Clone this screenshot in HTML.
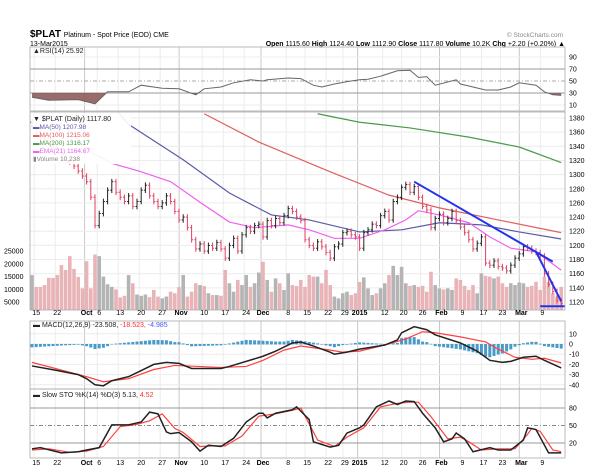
<!DOCTYPE html>
<html><head><meta charset="utf-8"><style>
html,body{margin:0;padding:0;background:#fff;}
svg{display:block;font-family:"Liberation Sans",sans-serif;}
</style></head><body>
<svg id="chart" width="600" height="475" viewBox="0 0 600 475" xmlns="http://www.w3.org/2000/svg">
<g>
<text x="30" y="37" font-size="10" font-weight="bold">$PLAT <tspan font-size="7" font-weight="normal">Platinum  - Spot Price (EOD) CME</tspan></text>
<text x="563" y="37" font-size="6.5" fill="#888" text-anchor="end">© StockCharts.com</text>
<text x="30" y="46" font-size="7">13-Mar2015</text>
<text x="565" y="46" font-size="7" text-anchor="end"><tspan font-weight="bold">Open</tspan> 1115.60 <tspan font-weight="bold">High</tspan> 1124.40 <tspan font-weight="bold">Low</tspan> 1112.90 <tspan font-weight="bold">Close</tspan> 1117.80 <tspan font-weight="bold">Volume</tspan> 10.2K <tspan font-weight="bold">Chg</tspan> +2.20 (+0.20%) ▲</text>
</g>
<g id="grid"></g>
<g id="plots"></g>
<g id="labels"></g>
</svg>
<script>
// ---- data ----
const closes=[1368,1360,1352,1350,1345,1340,1335,1325,1320,1318,1312,1305,1298,1290,1268,1228,1245,1262,1278,1290,1275,1268,1262,1270,1255,1262,1278,1285,1270,1262,1255,1260,1270,1262,1248,1236,1240,1225,1208,1195,1202,1192,1200,1196,1204,1195,1182,1200,1210,1192,1215,1225,1220,1228,1230,1212,1235,1228,1238,1232,1242,1252,1248,1240,1235,1208,1200,1196,1205,1198,1190,1182,1198,1202,1218,1220,1215,1212,1196,1218,1222,1230,1228,1242,1248,1236,1262,1268,1282,1286,1275,1283,1268,1255,1250,1225,1238,1244,1232,1238,1248,1235,1226,1218,1208,1195,1203,1212,1175,1172,1178,1170,1168,1164,1172,1182,1188,1198,1196,1192,1190,1185,1160,1145,1135,1122,1118];
const volumes=[15.6,11.0,11.0,11.7,14.5,14.5,15.6,19.5,17.6,23,18,14.9,10.4,21,10.4,23.6,23,15,12,11,10,6.9,7.5,15.6,12.4,8,7.5,8,7,9.8,7.2,6.5,7.2,9.1,8.5,10.9,15.6,7.2,9.1,12.4,11.7,11.3,8.5,7.8,7.8,7.5,17.6,12.4,9.1,13.7,11.7,15.6,11,12.4,16.6,20.8,13.7,9.1,14.3,12.4,9.8,16.3,11.7,11.3,13.7,11.0,15.6,15.0,15.0,12.4,17.6,11.7,7.2,6.5,8.5,9.1,7.8,8.5,12.9,14.7,10.4,7.8,8.5,10.4,12.4,15.6,19.2,15.6,18.8,12.4,11.4,11.7,11,11.4,9.1,16.9,11.7,10.4,10,10.4,9.8,14.3,13.7,11.4,9.8,11.7,8.5,16.3,15.3,15,14.3,15,12.4,11,12.4,11.7,12.7,12.4,11,11.4,13,9.8,15,13,8.5,7.2,11];
const ma50Idx=[19,23,36,47,57,66,78,88,97,107,116,126];
const ma50Val=[1398,1371,1321,1274,1243,1236,1219,1222,1232,1229,1219,1209];
const ma100Idx=[41,54,71,85,97,111,126];
const ma100Val=[1386,1346,1304,1271,1253,1236,1218];
const ma200Idx=[68,78,90,104,116,126];
const ma200Val=[1386,1374,1366,1353,1339,1317];
const emaIdx=[5,14,19,26,33,40,47,53,61,66,72,78,84,89,92,97,104,109,114,120,126];
const emaVal=[1384,1332,1316,1304,1290,1261,1233,1225,1229,1222,1210,1210,1222,1236,1249,1243,1232,1212,1196,1191,1165];
const rsiIdx=[0,4,11,15,18,23,26,31,35,39,41,45,48,52,55,56,61,64,67,69,72,75,78,80,83,87,90,92,94,96,101,102,105,108,111,114,116,120,122,124,126];
const rsiVal=[23,18,19,12,32,32,43,38,37,27,37,40,47,52,50,52,55,54,43,40,45,49,52,53,58,67,68,56,57,43,52,45,40,35,35,40,47,43,32,27,26];
const macdIdx=[0,6,11,13,15,17,19,23,26,29,32,35,38,45,47,55,58,62,64,67,71,72,75,78,84,87,88,91,94,96,102,106,109,112,114,117,120,122,126];
const macdVal=[-21.5,-26,-30,-34,-40,-41,-36,-32,-26,-20,-18,-19,-24,-24,-22,-12,-7,1,2,-2,-8,-10,-8,-5,-1,4,11,17,14,9,1,-7,-16,-18,-17,-13,-12,-16,-23.5];
const signalIdx=[0,13,17,23,29,34,45,51,55,60,64,71,74,78,84,89,93,96,102,108,111,115,119,122,126];
const signalVal=[-18,-32,-37,-34,-25,-21,-23,-22,-16,-6,-2,-6,-8,-7,-1,5,12,11,7,2,-5,-13,-15,-14,-18.5];
const kIdx=[0,2,7,11,13,16,19,23,26,28,30,32,33,35,38,40,42,45,48,51,54,55,56,58,62,63,66,67,71,73,75,78,79,82,85,87,89,91,93,96,98,100,101,103,105,109,111,114,117,118,120,123,126];
const kVal=[10,12,3,5,8,12,51,51,56,73,70,39,36,38,22,6,16,14,28,56,71,71,63,71,77,82,60,22,13,16,37,46,51,82,92,86,92,91,71,46,22,27,37,27,5,12,8,8,25,46,43,3,3];
const dIdx=[0,4,9,13,17,21,25,28,31,34,36,40,43,46,50,54,58,62,64,68,72,75,79,83,87,90,92,95,99,102,104,107,111,115,118,119,121,124,126];
const dVal=[8,10,4,6,14,48,52,58,70,45,38,14,15,15,32,66,70,76,80,25,14,30,46,82,88,90,90,65,27,30,22,8,10,10,35,45,40,8,5];
const priceTicks=[1380,1360,1340,1320,1300,1280,1260,1240,1220,1200,1180,1160,1140,1120];
const volTicks=[25000,20000,15000,10000,5000];
const rsiTicks=[90,70,50,30,10];
const macdTicks=[10,0,-10,-20,-30,-40];
const stoTicks=[80,50,20];
const dateLabels=["15","22","Oct","6","13","20","27","Nov","10","17","24","Dec","8","15","22","29","2015","12","20","26","Feb","9","17","23","Mar","9"];
const datePos=[1,6,13,16,21,26,31,35.5,41,46,51,55,61,65.5,70.5,74.5,78,84,88.5,93,97.5,102.5,107.5,112,116.5,121.5];
const trend1=[[91,1290],[124,1177]];
const trend2=[[120,1191],[126,1121]];
const trend3=[[121,1114],[127,1114]];

// ---- layout ----
const L=30,R=565;
const X=i=>32+i*4.2;
const PY=p=>118+(1380-p)*0.7077;
const VY=v=>315-v*2.56;
const RY=v=>57+(90-v)*0.6;
const MY=v=>344-v*1.02;
const SY=v=>408+(80-v)*0.583;
const NS="http://www.w3.org/2000/svg";
function mk(tag,attrs,parent){const e=document.createElementNS(NS,tag);for(const k in attrs)e.setAttribute(k,attrs[k]);parent.appendChild(e);return e;}
const grid=document.getElementById('grid'),plots=document.getElementById('plots'),labs=document.getElementById('labels');
const panels=[[47,111],[112,310],[321,389],[389,458]];
datePos.forEach((d,j)=>{const month=["Oct","Nov","Dec","2015","Feb","Mar"].includes(dateLabels[j]);
 panels.forEach(p=>{const l=mk('line',{x1:X(d)-2,x2:X(d)-2,y1:p[0],y2:p[1],stroke:month?'#c8c8c8':'#ececec','stroke-width':1},grid);
 });});
priceTicks.forEach(t=>{const y=PY(t);const l=mk('line',{x1:L,x2:R,y1:y,y2:y,stroke:'#ececec'},grid);
 const tx=mk('text',{x:R+4,y:y+2.5,'font-size':7},labs);tx.textContent=t;});
volTicks.forEach(t=>{const tx=mk('text',{x:4,y:VY(t/1000)+2.5,'font-size':7},labs);tx.textContent=t;});
rsiTicks.forEach(t=>{const y=RY(t);const strong=(t==70||t==30);const l=mk('line',{x1:L,x2:R,y1:y,y2:y,stroke:strong?'#999':(t==50?'#aaa':'#ececec'),'stroke-dasharray':t==50?'4,2,1,2':'none'},grid);
 const tx=mk('text',{x:R+4,y:y+2.5,'font-size':7},labs);tx.textContent=t;});
macdTicks.forEach(t=>{const y=MY(t);const l=mk('line',{x1:L,x2:R,y1:y,y2:y,stroke:'#ececec'},grid);
 const tx=mk('text',{x:R+4,y:y+2.5,'font-size':7},labs);tx.textContent=t;});
stoTicks.forEach(t=>{const y=SY(t);const l=mk('line',{x1:L,x2:R,y1:y,y2:y,stroke:t==50?'#888':'#999','stroke-dasharray':t==50?'4,2,1,2':'none'},grid);
 const tx=mk('text',{x:R+4,y:y+2.5,'font-size':7},labs);tx.textContent=t;});
[315,465].forEach(yy=>{dateLabels.forEach((s,j)=>{const bold=isNaN(+s)||s=="2015";const tx=mk('text',{x:X(datePos[j]),y:yy,'font-size':7,'text-anchor':'middle','font-weight':bold?'bold':'normal'},labs);tx.textContent=s;});});
closes.forEach((c,i)=>{const up=i==0||c>=closes[i-1];const y=VY(volumes[i]);const r=mk('rect',{x:X(i)-1.8,y:y,width:3.6,height:Math.max(0,310-y),fill:up?'#b4b4b4':'#e8b4b8'},plots);});
function line(idx,val,fy,color,w,name){const pts=idx.map((d,j)=>X(d)+','+fy(val[j])).join(' ');const p=mk('polyline',{points:pts,fill:'none',stroke:color,'stroke-width':w},plots);return p;}
function interp(idx,val,i){if(i<=idx[0])return val[0];for(let j=1;j<idx.length;j++){if(i<=idx[j]){const t=(i-idx[j-1])/(idx[j]-idx[j-1]);return val[j-1]+t*(val[j]-val[j-1]);}}return val[val.length-1];}
mk('clipPath',{id:'mainclip'},plots);
const cp=document.getElementById('mainclip');mk('rect',{x:L,y:113,width:R-L,height:197},cp);
const mainG=mk('g',{'clip-path':'url(#mainclip)'},plots);
function mline(idx,val,color,w,name){const p=mk('polyline',{points:idx.map((d,j)=>X(d)+','+PY(val[j])).join(' '),fill:'none',stroke:color,'stroke-width':w},mainG);}
mline(ma200Idx,ma200Val,'#4a9a4a',1.2,'ma200-line');
mline(ma100Idx,ma100Val,'#e06060',1.2,'ma100-line');
mline(ma50Idx,ma50Val,'#5a5aaa',1.2,'ma50-line');
mline(emaIdx,emaVal,'#f060f0',1.2,'ema21-line');
closes.forEach((c,i)=>{const o=i==0?c+6:closes[i-1];const up=i==0||c>=o;const hi=Math.max(o,c)+4,lo=Math.min(o,c)-4;const col=up?'#222':'#e04060';const x=X(i);
 const g=mk('g',{stroke:col,'stroke-width':1},mainG);
 mk('line',{x1:x,x2:x,y1:PY(hi),y2:PY(lo)},g);mk('line',{x1:x-1.5,x2:x,y1:PY(o),y2:PY(o)},g);mk('line',{x1:x,x2:x+1.5,y1:PY(c),y2:PY(c)},g);});
[trend1,trend2,trend3].forEach((t,k)=>{const l=mk('line',{x1:X(t[0][0]),y1:PY(t[0][1]),x2:X(t[1][0]),y2:PY(t[1][1]),stroke:'#2233ee','stroke-width':2},mainG);});
let fillPts=[];for(let i=0;i<=126;i+=0.5){const v=interp(rsiIdx,rsiVal,i);fillPts.push([X(i),RY(Math.min(v,30))]);}
const fp=mk('polygon',{points:fillPts.map(p=>p.join(',')).join(' ')+' '+X(126)+','+RY(30)+' '+X(0)+','+RY(30),fill:'#8a5050',opacity:0.85},plots);
line(rsiIdx,rsiVal,RY,'#666',1,'rsi-line');
for(let i=0;i<=126;i++){const h=interp(macdIdx,macdVal,i)-interp(signalIdx,signalVal,i);const y0=MY(0),y1=MY(h*0.8);const r=mk('rect',{x:X(i)-1.5,y:Math.min(y0,y1),width:3,height:Math.abs(y1-y0)+0.5,fill:'#4a9ac8'},plots);}
line(signalIdx,signalVal,MY,'#ff4040',1.2,'macd-signal-line');
line(macdIdx,macdVal,MY,'#222',1.5,'macd-line');
line(dIdx,dVal,SY,'#ff4040',1.2,'sto-d-line');
line(kIdx,kVal,SY,'#222',1.5,'sto-k-line');
panels.forEach((p,k)=>{const r=mk('rect',{x:L,y:p[0],width:R-L,height:p[1]-p[0],fill:'none',stroke:'#aaa','stroke-width':0.8},plots);});
function txt(x,y,s,col,name,size){const t=mk('text',{x:x,y:y,'font-size':size||7,fill:col||'#222'},labs);t.textContent=s;return t;}
const lb=mk('rect',{x:31,y:113,width:100,height:51,fill:'#fff',opacity:0.9},labs);
txt(33,121,'▼ $PLAT (Daily) 1117.80','#222','legend-price');
txt(33,129,'▬MA(50) 1207.98','#5a5aaa','legend-ma50',6.5);
txt(33,137,'▬MA(100) 1215.06','#e06060','legend-ma100',6.5);
txt(33,145,'▬MA(200) 1316.17','#4a9a4a','legend-ma200',6.5);
txt(33,153,'▬EMA(21) 1164.67','#f060f0','legend-ema21',6.5);
txt(33,161,'▮Volume 10,238','#888','legend-volume',6.5);
txt(33,53,'▲RSI(14) 25.92','#222','legend-rsi');
const ml=txt(33,327,'▬ MACD(12,26,9) -23.508, ','#222','legend-macd');
const s1=mk('tspan',{fill:'#ff3030'},ml);s1.textContent='-18.523, ';const s2=mk('tspan',{fill:'#4060ff'},ml);s2.textContent='-4.985';
const sl=txt(33,397,'▬ Slow STO %K(14) %D(3) 5.13, ','#222','legend-sto');
const s3=mk('tspan',{fill:'#ff3030'},sl);s3.textContent='4.52';
</script>
</body></html>
